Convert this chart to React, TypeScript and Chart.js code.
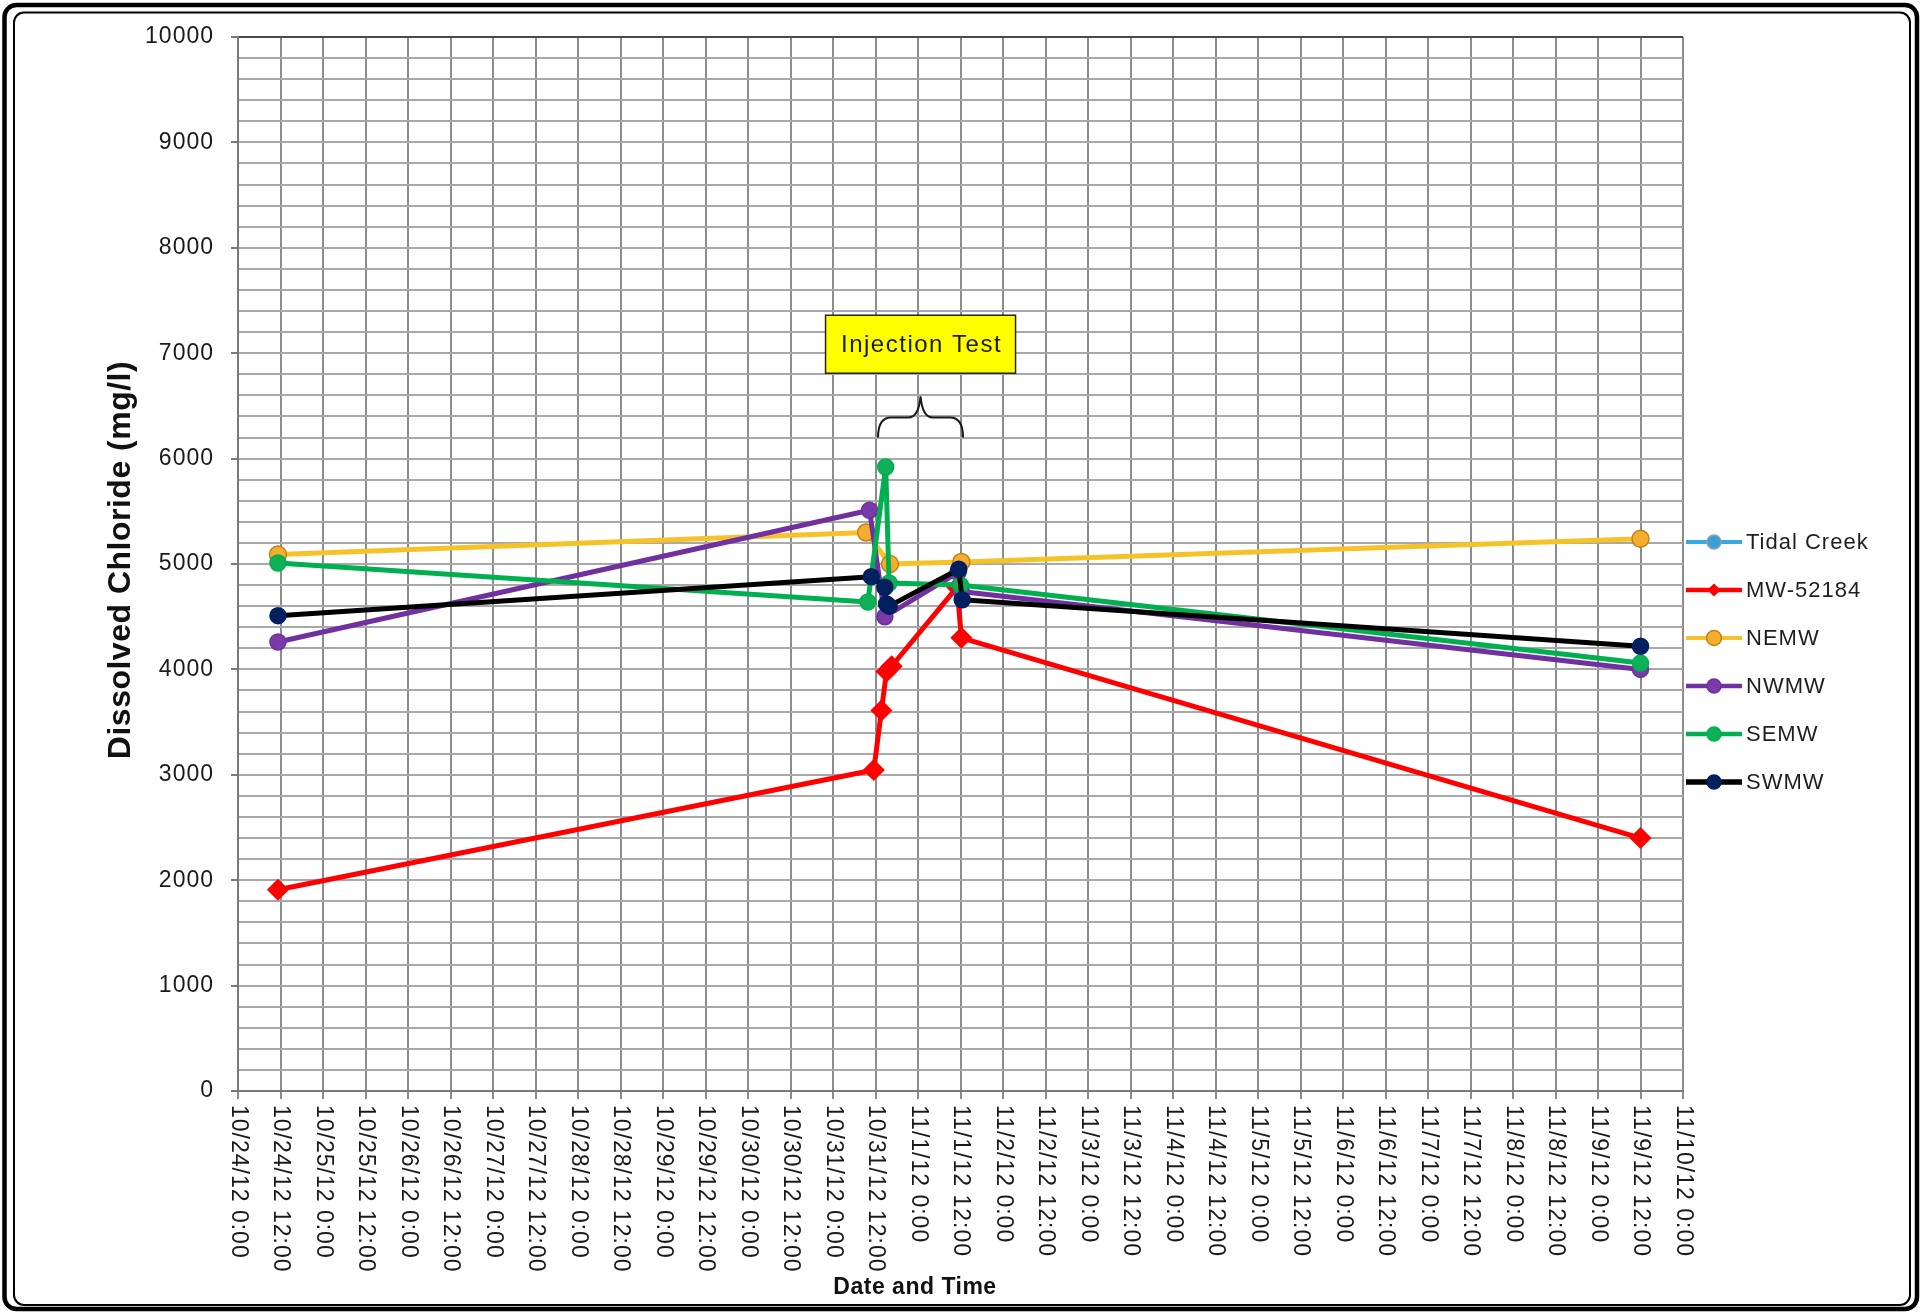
import { useEffect, useRef } from 'react';
import { Chart, registerables } from 'chart.js';

Chart.register(...registerables);

const W = 1923;
const H = 1312;
const FONT = '"Liberation Sans", Arial, sans-serif';

// x values are days since 10/24/12 0:00
const seriesNames = ['Tidal Creek', 'MW-52184', 'NEMW', 'NWMW', 'SEMW', 'SWMW'];

const tidalCreekDays: number[] = [];
const tidalCreekValues: number[] = [];

const mw52184Days = [0.47, 7.48, 7.57, 7.63, 7.69, 8.46, 8.51, 16.5];
const mw52184Values = [1910, 3045, 3610, 3980, 4030, 4780, 4300, 2400];

const nemwDays = [0.47, 7.39, 7.67, 8.51, 16.5];
const nemwValues = [5090, 5300, 5000, 5020, 5240];

const nwmwDays = [0.47, 7.43, 7.61, 8.47, 8.51, 16.5];
const nwmwValues = [4260, 5510, 4500, 4920, 4740, 4000];

const semwDays = [0.47, 7.41, 7.62, 7.66, 8.5, 16.5];
const semwValues = [5010, 4640, 5920, 4820, 4800, 4060];

const swmwDays = [0.47, 7.45, 7.61, 7.63, 7.66, 8.48, 8.52, 16.5];
const swmwValues = [4510, 4880, 4780, 4620, 4600, 4950, 4660, 4220];

const xTickLabels = [
  '10/24/12 0:00', '10/24/12 12:00', '10/25/12 0:00', '10/25/12 12:00',
  '10/26/12 0:00', '10/26/12 12:00', '10/27/12 0:00', '10/27/12 12:00',
  '10/28/12 0:00', '10/28/12 12:00', '10/29/12 0:00', '10/29/12 12:00',
  '10/30/12 0:00', '10/30/12 12:00', '10/31/12 0:00', '10/31/12 12:00',
  '11/1/12 0:00', '11/1/12 12:00', '11/2/12 0:00', '11/2/12 12:00',
  '11/3/12 0:00', '11/3/12 12:00', '11/4/12 0:00', '11/4/12 12:00',
  '11/5/12 0:00', '11/5/12 12:00', '11/6/12 0:00', '11/6/12 12:00',
  '11/7/12 0:00', '11/7/12 12:00', '11/8/12 0:00', '11/8/12 12:00',
  '11/9/12 0:00', '11/9/12 12:00', '11/10/12 0:00',
];

const yMajorStep = 1000;
const yMinorStep = 200;

// injection test window (days) and the callout text
const injectionStart = 7.53;
const injectionEnd = 8.53;
const injectionLabel = 'Injection Test';

type Style = {
  line: string;
  fill: string;
  border: string;
  shape: 'circle' | 'rectRot';
  radius: number;
  legendRadius: number;
  legendWidth: number;
};

const styles: Style[] = [
  { line: '#35a9e0', fill: '#3a9fd6', border: '#8fa3b0', shape: 'circle', radius: 8, legendRadius: 7, legendWidth: 4 },
  { line: '#ff0000', fill: '#ff0000', border: '#ff0000', shape: 'rectRot', radius: 10, legendRadius: 5.5, legendWidth: 4.5 },
  { line: '#f6c22a', fill: '#f5ad2c', border: '#c0801c', shape: 'circle', radius: 8.5, legendRadius: 7.5, legendWidth: 4 },
  { line: '#7030a0', fill: '#7a3aa8', border: '#7030a0', shape: 'circle', radius: 8, legendRadius: 7, legendWidth: 4.5 },
  { line: '#00b050', fill: '#0fb057', border: '#00b050', shape: 'circle', radius: 8, legendRadius: 7, legendWidth: 4.5 },
  { line: '#000000', fill: '#002060', border: '#002060', shape: 'circle', radius: 8, legendRadius: 7, legendWidth: 5.5 },
];

const seriesDays = [tidalCreekDays, mw52184Days, nemwDays, nwmwDays, semwDays, swmwDays];
const seriesValues = [tidalCreekValues, mw52184Values, nemwValues, nwmwValues, semwValues, swmwValues];

function drawMarker(ctx: CanvasRenderingContext2D, s: Style, x: number, y: number, r: number) {
  ctx.beginPath();
  if (s.shape === 'circle') {
    ctx.arc(x, y, r, 0, Math.PI * 2);
  } else {
    ctx.moveTo(x, y - r);
    ctx.lineTo(x + r, y);
    ctx.lineTo(x, y + r);
    ctx.lineTo(x - r, y);
    ctx.closePath();
  }
  ctx.fillStyle = s.fill;
  ctx.fill();
  ctx.lineWidth = 1.5;
  ctx.strokeStyle = s.border;
  ctx.stroke();
}

const decorPlugin = {
  id: 'chlorideDecor',
  beforeDraw(chart: any) {
    const ctx: CanvasRenderingContext2D = chart.ctx;
    ctx.save();
    ctx.fillStyle = '#ffffff';
    ctx.fillRect(0, 0, chart.width, chart.height);
    // double rounded frame
    ctx.strokeStyle = '#000000';
    ctx.lineWidth = 4.5;
    ctx.beginPath();
    ctx.roundRect(4.5, 5, 1917 - 4.5, 1309 - 5, 12);
    ctx.stroke();
    ctx.lineWidth = 2;
    ctx.beginPath();
    ctx.roundRect(14, 12.5, 1910 - 14, 1305 - 12.5, 10);
    ctx.stroke();
    ctx.restore();
    // slightly spaced lettering for the axis numbers
    (ctx as any).letterSpacing = '1px';
  },
  afterDraw(chart: any) {
    const ctx: CanvasRenderingContext2D = chart.ctx;
    const xs = chart.scales.x;
    const ys = chart.scales.y;
    const area = chart.chartArea;

    ctx.save();
    // rotated date labels, reading downward
    (ctx as any).letterSpacing = '1px';
    ctx.font = `23px ${FONT}`;
    ctx.fillStyle = '#1a1a1a';
    ctx.textAlign = 'left';
    ctx.textBaseline = 'middle';
    xs.ticks.forEach((t: any) => {
      const idx = Math.round(t.value / 0.5);
      const label = xTickLabels[idx];
      if (!label) return;
      const px = xs.getPixelForValue(t.value);
      ctx.save();
      ctx.translate(px, area.bottom + 14);
      ctx.rotate(Math.PI / 2);
      ctx.fillText(label, 0, 0);
      ctx.restore();
    });

    // axis titles
    ctx.fillStyle = '#111111';
    ctx.textAlign = 'center';
    (ctx as any).letterSpacing = '0.5px';
    ctx.font = `bold 23px ${FONT}`;
    ctx.fillText('Date and Time', 915, 1288);
    ctx.save();
    ctx.translate(121, 560);
    ctx.rotate(-Math.PI / 2);
    ctx.font = `bold 32px ${FONT}`;
    ctx.fillText('Dissolved Chloride (mg/l)', 0, 0);
    ctx.restore();

    // injection test callout
    const xl = xs.getPixelForValue(injectionStart);
    const xr = xs.getPixelForValue(injectionEnd);
    const xm = (xl + xr) / 2;
    const yb = ys.getPixelForValue(6200);
    const yt = ys.getPixelForValue(6590);
    const yh = ys.getPixelForValue(6390);
    ctx.strokeStyle = '#1a1a1a';
    ctx.lineWidth = 2;
    ctx.beginPath();
    ctx.moveTo(xl, yb);
    ctx.quadraticCurveTo(xl, yh, xl + 13, yh);
    ctx.lineTo(xm - 12, yh);
    ctx.quadraticCurveTo(xm - 2, yh, xm, yt);
    ctx.quadraticCurveTo(xm + 2, yh, xm + 12, yh);
    ctx.lineTo(xr - 13, yh);
    ctx.quadraticCurveTo(xr, yh, xr, yb);
    ctx.stroke();

    const boxTop = ys.getPixelForValue(7360);
    const boxBottom = ys.getPixelForValue(6810);
    const boxW = 190;
    ctx.fillStyle = '#ffff00';
    ctx.fillRect(xm - boxW / 2, boxTop, boxW, boxBottom - boxTop);
    ctx.lineWidth = 1.5;
    ctx.strokeStyle = '#222222';
    ctx.strokeRect(xm - boxW / 2, boxTop, boxW, boxBottom - boxTop);
    ctx.fillStyle = '#1a1a1a';
    ctx.font = `24px ${FONT}`;
    (ctx as any).letterSpacing = '1.5px';
    ctx.textBaseline = 'middle';
    ctx.fillText(injectionLabel, xm + 1, (boxTop + boxBottom) / 2 + 1);

    // legend
    (ctx as any).letterSpacing = '1px';
    ctx.textAlign = 'left';
    ctx.font = `22px ${FONT}`;
    seriesNames.forEach((name, i) => {
      const s = styles[i];
      const y = 542 + i * 48;
      ctx.strokeStyle = s.line;
      ctx.lineWidth = s.legendWidth;
      ctx.lineCap = 'butt';
      ctx.beginPath();
      ctx.moveTo(1686, y);
      ctx.lineTo(1742, y);
      ctx.stroke();
      drawMarker(ctx, s, 1714, y, s.legendRadius);
      ctx.fillStyle = '#1e1e1e';
      ctx.fillText(name, 1746, y + 1);
    });
    ctx.restore();
    (ctx as any).letterSpacing = '0px';
  },
};

export default function App() {
  const canvasRef = useRef<HTMLCanvasElement | null>(null);

  useEffect(() => {
    const canvas = canvasRef.current;
    if (!canvas) return;

    const datasets = seriesNames.map((name, i) => {
      const s = styles[i];
      return {
        label: name,
        data: seriesDays[i].map((d, j) => ({ x: d, y: seriesValues[i][j] })),
        borderColor: s.line,
        backgroundColor: s.fill,
        borderWidth: 5,
        borderJoinStyle: 'round' as const,
        borderCapStyle: 'round' as const,
        pointStyle: s.shape,
        pointRadius: s.radius,
        pointBackgroundColor: s.fill,
        pointBorderColor: s.border,
        pointBorderWidth: 1.5,
        tension: 0,
        fill: false,
        order: seriesNames.length - i,
      };
    });

    const chart = new Chart(canvas, {
      type: 'line',
      data: { datasets },
      options: {
        responsive: false,
        animation: false,
        devicePixelRatio: 1,
        layout: { padding: { left: 0, top: 37, right: 240, bottom: 0 } },
        plugins: {
          legend: { display: false },
          tooltip: { enabled: false },
          title: { display: false },
        },
        scales: {
          x: {
            type: 'linear',
            min: 0,
            max: 17,
            afterFit: (scale: any) => {
              scale.height = 221;
            },
            ticks: { display: false, stepSize: 0.5, autoSkip: false },
            grid: {
              color: '#8c8c8c',
              lineWidth: 2,
              drawTicks: true,
              tickLength: 8,
              tickColor: '#8c8c8c',
              tickWidth: 2,
            },
            border: { display: true, color: '#7a7a7a', width: 2 },
          },
          y: {
            type: 'linear',
            min: 0,
            max: 10000,
            afterFit: (scale: any) => {
              scale.width = 238;
            },
            ticks: {
              stepSize: yMinorStep,
              autoSkip: false,
              padding: 17,
              color: '#1a1a1a',
              font: { family: FONT, size: 23 },
              callback: (v: any) => (Number(v) % yMajorStep === 0 ? String(v) : ''),
            },
            grid: {
              color: (c: any) => (c.tick && c.tick.value === 10000 ? '#4a4a4a' : '#a8a8a8'),
              lineWidth: 2,
              drawTicks: true,
              tickLength: 7,
              tickColor: (c: any) =>
                c.tick && c.tick.value % yMajorStep === 0 ? '#7a7a7a' : 'rgba(0,0,0,0)',
              tickWidth: 2,
            },
            border: { display: true, color: '#7a7a7a', width: 2 },
          },
        },
      },
      plugins: [decorPlugin],
    });

    return () => {
      chart.destroy();
    };
  }, []);

  return (
    <div style={{ position: 'fixed', left: 0, top: 0, width: W, height: H, overflow: 'hidden', background: '#fff' }}>
      <canvas ref={canvasRef} width={W} height={H} style={{ display: 'block', width: W, height: H }} />
    </div>
  );
}
